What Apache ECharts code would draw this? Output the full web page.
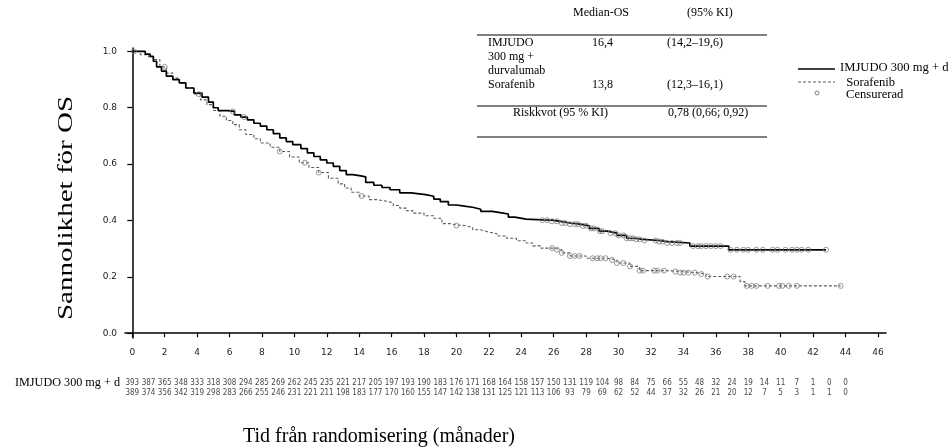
<!DOCTYPE html>
<html>
<head>
<meta charset="utf-8">
<title>Total överlevnad</title>
<style>
  html, body { margin: 0; padding: 0; background: #fff; }
  #chart { width: 952px; height: 448px; }
</style>
</head>
<body>
<div id="chart"></div>
<script src="https://cdn.jsdelivr.net/npm/echarts@6/dist/echarts.min.js"></script>
<script>
// ---- data ----
var xTicks = [0, 2, 4, 6, 8, 10, 12, 14, 16, 18, 20, 22, 24, 26, 28, 30, 32, 34, 36, 38, 40, 42, 44, 46];
var yTicks = [0, 0.2, 0.4, 0.6, 0.8, 1.0];

// IMJUDO 300 mg + durvalumab, KM step points (month, survival)
var imjT = [0, 0.8, 1.1, 1.3, 1.5, 1.8, 2.1, 2.5, 2.9, 3.3, 3.8, 4.3, 4.7, 5.0, 5.3, 5.9, 6.3, 6.7, 7.1, 7.5, 7.9,
  8.3, 8.7, 9.1, 9.5, 9.9, 10.4, 10.8, 11.2, 11.6, 12.0, 12.4, 12.8, 13.2, 13.6, 14.1, 14.4, 14.9, 15.4, 15.9,
  16.5, 17.2, 18.1, 18.6, 19.0, 19.5, 20.0, 20.6, 21.0, 21.5, 22.2, 22.7, 23.2, 23.6, 24.3, 25.3, 25.9, 26.4,
  27.0, 27.6, 28.2, 28.8, 29.3, 29.9, 30.5, 31.0, 31.5, 32.5, 33.0, 34.4, 36.8, 42.8];
var imjS = [1.0, 0.99, 0.982, 0.965, 0.945, 0.93, 0.912, 0.9, 0.888, 0.87, 0.852, 0.838, 0.82, 0.80, 0.79, 0.787,
  0.775, 0.767, 0.757, 0.745, 0.735, 0.722, 0.708, 0.693, 0.68, 0.669, 0.655, 0.64, 0.627, 0.615, 0.604, 0.592,
  0.577, 0.563, 0.558, 0.555, 0.535, 0.525, 0.517, 0.509, 0.498, 0.492, 0.486, 0.476, 0.467, 0.455, 0.45, 0.447,
  0.44, 0.432, 0.428, 0.423, 0.412, 0.405, 0.402, 0.401, 0.397, 0.391, 0.387, 0.381, 0.372, 0.362, 0.355, 0.347,
  0.337, 0.333, 0.329, 0.325, 0.32, 0.309, 0.296, 0.296];
var imjCens = [6.2, 6.9, 25.3, 25.6, 25.9, 26.2, 26.5, 26.7, 27.0, 27.3, 27.5, 27.8, 28.0, 28.3, 28.5, 28.85, 29.0,
  29.5, 29.8, 30.0, 30.3, 30.5, 30.7, 30.9, 31.1, 31.3, 31.6, 32.3, 32.5, 32.7, 33.0, 33.3, 33.6, 33.8, 34.6, 34.9,
  35.1, 35.4, 35.7, 36.0, 36.3, 36.9, 37.3, 37.7, 38.0, 38.5, 38.9, 39.5, 39.8, 40.3, 40.7, 41.0, 41.3, 41.7, 42.8];

// Sorafenib
var sorT = [0, 0.5, 1.0, 1.3, 1.7, 2.1, 2.5, 2.9, 3.3, 3.8, 4.2, 4.6, 5.0, 5.4, 5.8, 6.2, 6.6, 7.0, 7.5, 7.9, 8.5,
  9.1, 9.7, 10.3, 10.9, 11.5, 12.1, 12.7, 13.1, 13.5, 14.0, 14.6, 15.1, 15.7, 16.1, 16.5, 16.9, 17.3, 18.0, 18.6,
  19.1, 19.6, 20.0, 20.5, 21.0, 21.5, 21.9, 22.5, 23.1, 23.7, 24.3, 24.7, 25.2, 26.0, 26.5, 27.0, 28.0, 29.3, 29.9,
  30.7, 31.3, 33.0, 33.8, 34.8, 35.4, 37.5, 37.8, 43.7];
var sorS = [1.0, 0.988, 0.98, 0.971, 0.945, 0.923, 0.905, 0.888, 0.87, 0.848, 0.828, 0.811, 0.79, 0.77, 0.755, 0.74,
  0.722, 0.705, 0.69, 0.675, 0.66, 0.645, 0.625, 0.605, 0.588, 0.57, 0.55, 0.53, 0.515, 0.5, 0.487, 0.474, 0.468,
  0.463, 0.453, 0.444, 0.435, 0.426, 0.417, 0.408, 0.389, 0.384, 0.382, 0.375, 0.367, 0.36, 0.353, 0.345, 0.337,
  0.328, 0.32, 0.31, 0.302, 0.296, 0.285, 0.274, 0.266, 0.26, 0.249, 0.237, 0.222, 0.219, 0.215, 0.21, 0.201, 0.183,
  0.168, 0.168];
var sorCens = [0.1, 2.0, 4.1, 9.1, 10.65, 11.5, 14.15, 20.0, 25.9, 26.2, 26.5, 27.0, 27.3, 27.6, 28.4, 28.7, 28.9,
  29.2, 29.6, 29.9, 30.3, 30.7, 31.3, 31.5, 32.2, 32.4, 32.8, 33.5, 33.8, 34.0, 34.3, 34.7, 35.1, 35.5, 36.7, 37.1,
  37.9, 38.2, 38.5, 39.2, 39.9, 40.1, 40.5, 41.0, 43.7];

// numbers at risk
var riskMonths = [0, 1, 2, 3, 4, 5, 6, 7, 8, 9, 10, 11, 12, 13, 14, 15, 16, 17, 18, 19, 20, 21, 22,
  23, 24, 25, 26, 27, 28, 29, 30, 31, 32, 33, 34, 35, 36, 37, 38, 39, 40, 41, 42, 43, 44];
var riskImj = [393, 387, 365, 348, 333, 318, 308, 294, 285, 269, 262, 245, 235, 221, 217, 205, 197, 193, 190, 183,
  176, 171, 168, 164, 158, 157, 150, 131, 119, 104, 98, 84, 75, 66, 55, 48, 32, 24, 19, 14, 11, 7, 1, 0, 0];
var riskSor = [389, 374, 356, 342, 319, 298, 283, 266, 255, 246, 231, 221, 211, 198, 183, 177, 170, 160, 155, 147,
  142, 138, 131, 125, 121, 113, 106, 93, 79, 69, 62, 52, 44, 37, 32, 26, 21, 20, 12, 7, 5, 3, 1, 1, 0];
var riskRows = ['IMJUDO 300 mg + d', 'Sorafenib'];

// summary table and legend texts
var tblHead = ['Median-OS', '(95% KI)'];
var tblArm = ['IMJUDO', '300 mg +', 'durvalumab', 'Sorafenib'];
var tblMedian = ['16,4', '13,8'];
var tblCI = ['(14,2–19,6)', '(12,3–16,1)'];
var tblHR = ['Riskkvot (95 % KI)', '0,78 (0,66; 0,92)'];
var legendNames = ['IMJUDO 300 mg + d', ' Sorafenib', 'Censurerad'];

function pairs(t, s) {
  var out = [];
  for (var i = 0; i < t.length; i++) out.push([t[i], s[i]]);
  return out;
}
// value of the KM step function at time x
function survAt(t, s, x) {
  var v = s[0];
  for (var i = 0; i < t.length; i++) { if (t[i] <= x) v = s[i]; }
  return v;
}
function censPoints(t, s, c) {
  return c.map(function (x) { return [x, survAt(t, s, x)]; });
}
function riskPoints(row, vals) {
  return riskMonths.map(function (m, i) { return [m, row, vals[i]]; });
}

var serif = 'Liberation Serif';
var sans = 'DejaVu Sans';
var narrow = '"Liberation Sans Narrow", "DejaVu Sans Condensed", "Liberation Sans", sans-serif';
var blackC = '#000';
var grayC = '#5c5c5c';
var censC = '#808080';

function txt(x, y, s, size, extra) {
  var st = { text: s, font: (size || 12) + 'px ' + serif, fill: '#000', verticalAlign: 'middle' };
  for (var k in extra) st[k] = extra[k];
  return { type: 'text', x: x, y: y, style: st };
}
function hline(x1, x2, y, w, dash, color) {
  return { type: 'line', shape: { x1: x1, y1: y, x2: x2, y2: y },
    style: { stroke: color || '#000', lineWidth: w || 1, lineDash: dash || null } };
}

var chart = echarts.init(document.getElementById('chart'));
var option = {
  animation: false,
  backgroundColor: '#fff',
  grid: [
    { left: 125, right: 66, top: 48, bottom: 110 },
    { left: 125, right: 66, top: 378, height: 20 }
  ],
  xAxis: [
    {
      type: 'value', gridIndex: 0, min: -0.45, max: 46.5,
      splitLine: { show: false },
      axisLine: { lineStyle: { color: '#000', width: 1.5 } },
      axisTick: { customValues: xTicks, length: 4, lineStyle: { color: '#000', width: 1.2 } },
      axisLabel: { customValues: xTicks, margin: 10, fontFamily: sans, fontSize: 9, color: '#222' }
    },
    { type: 'value', gridIndex: 1, min: -0.45, max: 46.5, show: false }
  ],
  yAxis: [
    {
      type: 'value', gridIndex: 0, min: -0.017, max: 1.012,
      splitLine: { show: false },
      axisLine: { show: true, lineStyle: { color: '#000', width: 1.5 } },
      axisTick: { show: true, customValues: yTicks, length: 5, lineStyle: { color: '#000', width: 1.2 } },
      axisLabel: {
        customValues: yTicks, margin: 8, fontFamily: sans, fontSize: 9, color: '#222',
        formatter: function (v) { return v.toFixed(1); }
      }
    },
    {
      type: 'category', gridIndex: 1, data: riskRows, inverse: true,
      axisLine: { show: false }, axisTick: { show: false },
      axisLabel: { margin: 5, fontFamily: serif, fontSize: 12.2, color: '#000' }
    }
  ],
  series: [
    {
      name: 'IMJUDO 300 mg + durvalumab', type: 'line', step: 'end', symbol: 'none',
      data: pairs(imjT, imjS),
      lineStyle: { color: blackC, width: 1.7 }, z: 3
    },
    {
      name: 'Sorafenib', type: 'line', step: 'end', symbol: 'none',
      data: pairs(sorT, sorS),
      lineStyle: { color: grayC, width: 1.1, type: [3, 2] }, z: 2
    },
    {
      name: 'Censurerad', type: 'scatter', symbol: 'circle', symbolSize: 5,
      data: censPoints(imjT, imjS, imjCens),
      itemStyle: { color: 'rgba(0,0,0,0)', borderColor: censC, borderWidth: 1 }, z: 4
    },
    {
      name: 'Censurerad', type: 'scatter', symbol: 'circle', symbolSize: 5,
      data: censPoints(sorT, sorS, sorCens),
      itemStyle: { color: 'rgba(0,0,0,0)', borderColor: censC, borderWidth: 1 }, z: 4
    },
    {
      type: 'scatter', xAxisIndex: 1, yAxisIndex: 1, symbolSize: 1, silent: true,
      itemStyle: { color: 'rgba(0,0,0,0)' },
      data: riskPoints(riskRows[0], riskImj).concat(riskPoints(riskRows[1], riskSor)),
      label: {
        show: true, position: 'inside', fontFamily: narrow, fontSize: 8, color: '#111',
        formatter: function (p) { return p.value[2]; }
      }
    }
  ],
  graphic: [
    // axis titles (the y title is drawn stretched along its length, as in the picture)
    { type: 'text', x: 66, y: 208, rotation: Math.PI / 2, scaleX: 1.32,
      style: { text: 'Sannolikhet för OS', font: '22px ' + serif, fill: '#000', align: 'center', verticalAlign: 'middle' } },
    { type: 'text', x: 379, y: 437,
      style: { text: 'Tid från randomisering (månader)', font: '20px ' + serif, fill: '#000', align: 'center', verticalAlign: 'middle' } },
    // summary table
    txt(573, 13, tblHead[0]),
    txt(687, 13, tblHead[1]),
    hline(477, 767, 35),
    txt(488, 43, tblArm[0]),
    txt(488, 57, tblArm[1]),
    txt(488, 71, tblArm[2]),
    txt(592, 43, tblMedian[0]),
    txt(667, 43, tblCI[0]),
    txt(488, 85, tblArm[3]),
    txt(592, 85, tblMedian[1]),
    txt(667, 85, tblCI[1]),
    hline(477, 767, 106),
    txt(513, 113, tblHR[0]),
    txt(668, 113, tblHR[1]),
    hline(477, 767, 137),
    // legend
    hline(798, 835, 69, 1.7, null, blackC),
    txt(840, 68, legendNames[0], 12.6),
    hline(798, 835, 82, 1, [3, 2], grayC),
    txt(843, 83, legendNames[1], 12.6),
    { type: 'circle', shape: { cx: 817, cy: 93, r: 2 }, style: { fill: 'none', stroke: censC, lineWidth: 1 } },
    txt(846, 95, legendNames[2], 12.6)
  ]
};
chart.setOption(option);
</script>
</body>
</html>
